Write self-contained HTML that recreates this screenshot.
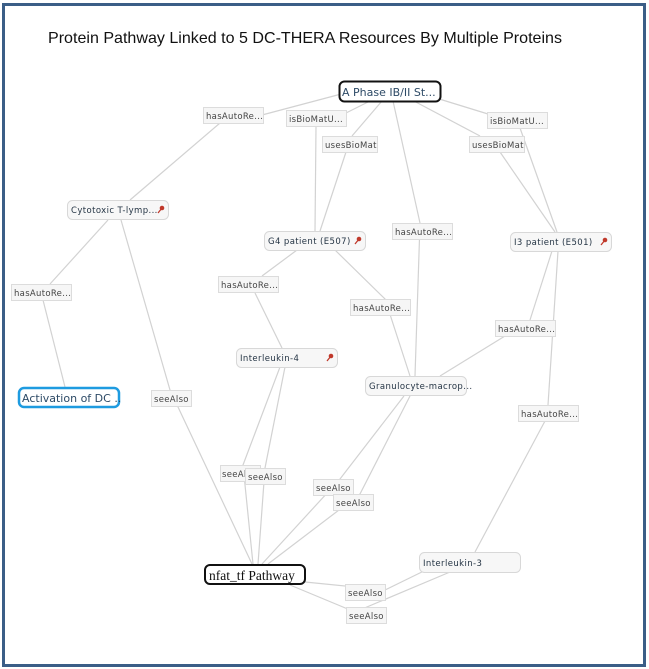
<!DOCTYPE html>
<html><head><meta charset="utf-8"><style>
html,body{margin:0;padding:0;background:#fff;width:649px;height:669px;overflow:hidden}
svg{display:block}
.e{stroke:#d2d2d2;stroke-width:1.2;fill:none}
.lb rect{fill:#f6f6f6;stroke:#dcdcdc;stroke-width:1}
.lb text{font-family:"DejaVu Sans",sans-serif;font-size:8.5px;fill:#444;letter-spacing:0.3px}
.nd rect{fill:#f7f7f7;stroke:#d8d8d8;stroke-width:1}
.nd text{font-family:"DejaVu Sans",sans-serif;font-size:8.5px;fill:#243444;letter-spacing:0.4px}
.pin{fill:#c0392b}
</style></head><body>
<svg width="649" height="669" viewBox="0 0 649 669">
<rect x="3.5" y="4.5" width="641" height="661" fill="#fff" stroke="#3b5e87" stroke-width="3"/>
<text x="48" y="43" font-family="'Liberation Sans',Arial,sans-serif" font-size="16" fill="#111" textLength="514" lengthAdjust="spacingAndGlyphs">Protein Pathway Linked to 5 DC-THERA Resources By Multiple Proteins</text>

<g class="e">
<polyline points="345,93 262,115"/>
<polyline points="220,123 130,200"/>
<polyline points="372,100 340,116"/>
<polyline points="316,127 315,231"/>
<polyline points="382,101 352,136"/>
<polyline points="346,152 320,231"/>
<polyline points="393,101 420,223 415,376"/>
<polyline points="412,100 480,136"/>
<polyline points="436,98 488,114"/>
<polyline points="520,128 557,232"/>
<polyline points="500,152 555,232"/>
<polyline points="108,220 50,284"/>
<polyline points="43,300 65,387"/>
<polyline points="121,220 170,390 252,564"/>
<polyline points="297,250 262,276"/>
<polyline points="255,293 282,348"/>
<polyline points="335,250 385,299 410,376"/>
<polyline points="552,251 530,320"/>
<polyline points="505,336 440,376"/>
<polyline points="558,251 548,405"/>
<polyline points="545,421 475,552"/>
<polyline points="280,367 243,465 253,564"/>
<polyline points="285,367 265,468 258,564"/>
<polyline points="404,396 340,479 262,564"/>
<polyline points="410,396 360,494 268,564"/>
<polyline points="430,568 385,590 305,582"/>
<polyline points="290,585 355,612 450,572"/>
</g>

<g class="lb">
<rect x="203.5" y="107.5" width="60" height="16"/><text x="206" y="119">hasAutoRe...</text>
<rect x="286.5" y="110.5" width="60" height="16"/><text x="289" y="122">isBioMatU...</text>
<rect x="322.5" y="136.5" width="55" height="16"/><text x="325" y="148">usesBioMat</text>
<rect x="487.5" y="112.5" width="60" height="16"/><text x="490" y="124">isBioMatU...</text>
<rect x="469.5" y="136.5" width="55" height="16"/><text x="472" y="148">usesBioMat</text>
<rect x="392.5" y="223.5" width="60" height="16"/><text x="395" y="235">hasAutoRe...</text>
<rect x="11.5" y="284.5" width="60" height="16"/><text x="14" y="296">hasAutoRe...</text>
<rect x="218.5" y="276.5" width="60" height="16"/><text x="221" y="288">hasAutoRe...</text>
<rect x="350.5" y="299.5" width="60" height="16"/><text x="353" y="311">hasAutoRe...</text>
<rect x="495.5" y="320.5" width="60" height="16"/><text x="498" y="332">hasAutoRe...</text>
<rect x="151.5" y="390.5" width="40" height="16"/><text x="154" y="402">seeAlso</text>
<rect x="518.5" y="405.5" width="60" height="16"/><text x="521" y="417">hasAutoRe...</text>
<rect x="220.5" y="465.5" width="40" height="16"/><text x="222" y="477">seeAlso</text>
<rect x="245.5" y="468.5" width="40" height="16"/><text x="248" y="480">seeAlso</text>
<rect x="313.5" y="479.5" width="40" height="16"/><text x="316" y="491">seeAlso</text>
<rect x="333.5" y="494.5" width="40" height="16"/><text x="336" y="506">seeAlso</text>
<rect x="345.5" y="584.5" width="40" height="16"/><text x="348" y="596">seeAlso</text>
<rect x="346.5" y="607.5" width="40" height="16"/><text x="349" y="619">seeAlso</text>
</g>

<g class="nd">
<rect x="67.5" y="200.5" width="101" height="19" rx="5"/><text x="71" y="213">Cytotoxic T-lymp...</text>
<rect x="264.5" y="231.5" width="101" height="19" rx="5"/><text x="268" y="244">G4 patient (E507)</text>
<rect x="510.5" y="232.5" width="101" height="19" rx="5"/><text x="514" y="245">I3 patient (E501)</text>
<rect x="236.5" y="348.5" width="101" height="19" rx="5"/><text x="240" y="361">Interleukin-4</text>
<rect x="365.5" y="376.5" width="101" height="19" rx="5"/><text x="369" y="389">Granulocyte-macrop...</text>
<rect x="419.5" y="552.5" width="101" height="20" rx="5"/><text x="423" y="566">Interleukin-3</text>
</g>
<g class="pin">
<circle cx="162" cy="208" r="2.3"/><line x1="162" y1="208" x2="158" y2="213" stroke="#c0392b" stroke-width="1.3"/>
<circle cx="359" cy="239" r="2.3"/><line x1="359" y1="239" x2="355" y2="244" stroke="#c0392b" stroke-width="1.3"/>
<circle cx="605" cy="240" r="2.3"/><line x1="605" y1="240" x2="601" y2="245" stroke="#c0392b" stroke-width="1.3"/>
<circle cx="331" cy="356" r="2.3"/><line x1="331" y1="356" x2="327" y2="361" stroke="#c0392b" stroke-width="1.3"/>
</g>

<rect x="339.5" y="81.5" width="101" height="20" rx="5" fill="#fff" stroke="#111" stroke-width="2"/>
<text x="342" y="96" font-family="'DejaVu Sans',sans-serif" font-size="11" fill="#2d4a66">A Phase IB/II St...</text>

<rect x="19" y="388" width="100" height="19" rx="5" fill="#fff" stroke="#1e9be0" stroke-width="2.5"/>
<text x="22" y="402" font-family="'DejaVu Sans',sans-serif" font-size="11" fill="#2d4a66">Activation of DC ..</text>

<rect x="205" y="565" width="100" height="19" rx="5" fill="#fff" stroke="#111" stroke-width="2"/>
<text x="209" y="580" font-family="'Liberation Serif',serif" font-size="13.5" fill="#111">nfat_tf Pathway</text>
</svg>
</body></html>
